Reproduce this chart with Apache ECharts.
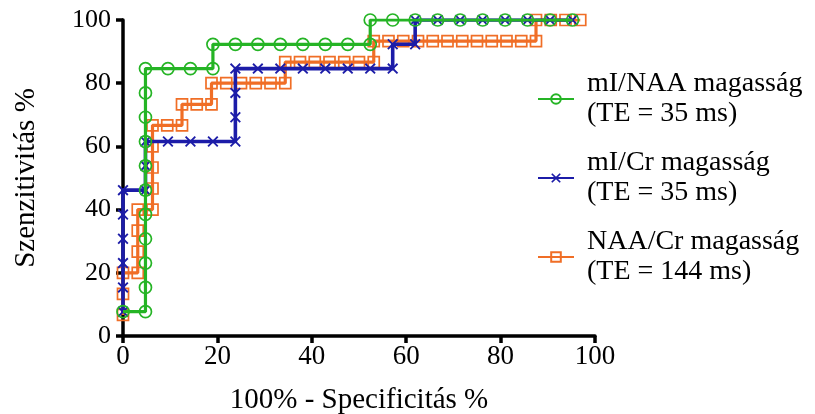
<!DOCTYPE html>
<html>
<head>
<meta charset="utf-8">
<script src="https://cdn.jsdelivr.net/npm/echarts@6/dist/echarts.min.js"></script>
<style>
html,body{margin:0;padding:0;background:#fff;}
#c{width:815px;height:414px;}
</style>
</head>
<body>
<div id="c"></div>
<script>
// ---- Data ----
const xTicks = [0, 20, 40, 60, 80, 100];
const yTicks = [0, 20, 40, 60, 80, 100];

const seriesNames = ['mI/NAA magasság\n(TE = 35 ms)', 'mI/Cr magasság\n(TE = 35 ms)', 'NAA/Cr magasság\n(TE = 144 ms)'];

// mI/NAA (green, circles)
const greenX = [0, 4.76, 4.76, 4.76, 4.76, 4.76, 4.76, 4.76, 4.76, 4.76, 4.76, 4.76, 9.52, 14.29, 19.05, 19.05, 23.81, 28.57, 33.33, 38.10, 42.86, 47.62, 52.38, 52.38, 57.14, 61.90, 66.67, 71.43, 76.19, 80.95, 85.71, 90.48, 95.24];
const greenY = [7.69, 7.69, 15.38, 23.08, 30.77, 38.46, 46.15, 53.85, 61.54, 69.23, 76.92, 84.62, 84.62, 84.62, 84.62, 92.31, 92.31, 92.31, 92.31, 92.31, 92.31, 92.31, 92.31, 100, 100, 100, 100, 100, 100, 100, 100, 100, 100];

// mI/Cr (blue, crosses)
const blueX = [0, 0, 0, 0, 0, 0, 4.76, 4.76, 4.76, 9.52, 14.29, 19.05, 23.81, 23.81, 23.81, 23.81, 28.57, 33.33, 38.10, 42.86, 47.62, 52.38, 57.14, 57.14, 61.90, 61.90, 66.67, 71.43, 76.19, 80.95, 85.71, 90.48, 95.24];
const blueY = [7.69, 15.38, 23.08, 30.77, 38.46, 46.15, 46.15, 53.85, 61.54, 61.54, 61.54, 61.54, 61.54, 69.23, 76.92, 84.62, 84.62, 84.62, 84.62, 84.62, 84.62, 84.62, 84.62, 92.31, 92.31, 100, 100, 100, 100, 100, 100, 100, 100];

// NAA/Cr (orange, squares)
const orangeX = [0, 0, 0, 3.125, 3.125, 3.125, 3.125, 6.25, 6.25, 6.25, 6.25, 6.25, 9.375, 12.5, 12.5, 15.625, 18.75, 18.75, 21.875, 25, 28.125, 31.25, 34.375, 34.375, 37.5, 40.625, 43.75, 46.875, 50, 53.125, 53.125, 56.25, 59.375, 62.5, 65.625, 68.75, 71.875, 75, 78.125, 81.25, 84.375, 87.5, 87.5, 90.625, 93.75, 96.875];
const orangeY = [6.67, 13.33, 20, 20, 26.67, 33.33, 40, 40, 46.67, 53.33, 60, 66.67, 66.67, 66.67, 73.33, 73.33, 73.33, 80, 80, 80, 80, 80, 80, 86.67, 86.67, 86.67, 86.67, 86.67, 86.67, 86.67, 93.33, 93.33, 93.33, 93.33, 93.33, 93.33, 93.33, 93.33, 93.33, 93.33, 93.33, 93.33, 100, 100, 100, 100];

// ---- Styling ----
const GREEN = '#25b425';
const BLUE = '#1c1ca8';
const ORANGE = '#f06e26';
const FONT = '"Liberation Serif", "DejaVu Serif", serif';
const crossPath = 'path://M0,1.2L1.2,0L5,3.8L8.8,0L10,1.2L6.2,5L10,8.8L8.8,10L5,6.2L1.2,10L0,8.8L3.8,5Z';

function pairs(xs, ys) { return xs.map((x, i) => [x, ys[i]]); }

const chart = echarts.init(document.getElementById('c'), null, {renderer: 'canvas'});
chart.setOption({
  animation: false,
  backgroundColor: '#fff',
  textStyle: {fontFamily: FONT, color: '#000'},
  grid: {left: 123, right: 220, top: 20, bottom: 78, containLabel: false, outerBoundsMode: 'none'},
  xAxis: {
    type: 'value', min: 0, max: 100, interval: 20,
    name: '100% - Specificitás %', nameLocation: 'middle', nameGap: 50,
    nameTextStyle: {fontFamily: FONT, fontSize: 29, color: '#000'},
    axisLine: {show: true, onZero: false, lineStyle: {color: '#000', width: 3.5}},
    axisTick: {show: true, length: 7, lineStyle: {color: '#000', width: 3.5}},
    axisLabel: {fontFamily: FONT, fontSize: 27, color: '#000', margin: 7,
      formatter: v => xTicks.indexOf(v) >= 0 ? String(v) : ''},
    splitLine: {show: false}
  },
  yAxis: {
    type: 'value', min: 0, max: 100, interval: 20,
    name: 'Szenzitivitás %', nameLocation: 'middle', nameGap: 82, nameRotate: 90,
    nameTextStyle: {fontFamily: FONT, fontSize: 29, color: '#000'},
    axisLine: {show: true, onZero: false, lineStyle: {color: '#000', width: 3.5}},
    axisTick: {show: true, length: 7, lineStyle: {color: '#000', width: 3.5}},
    axisLabel: {fontFamily: FONT, fontSize: 26, color: '#000', margin: 12,
      formatter: v => yTicks.indexOf(v) >= 0 ? String(v) : ''},
    splitLine: {show: false}
  },
  legend: {
    orient: 'vertical', left: 532, top: 64,
    itemWidth: 36, itemHeight: 12, itemGap: 19,
    textStyle: {fontFamily: FONT, fontSize: 28, color: '#000', lineHeight: 30, padding: [0, 0, 0, 8]},
    data: seriesNames
  },
  series: [
    {
      name: seriesNames[2], type: 'line', z: 2,
      data: pairs(orangeX, orangeY),
      symbol: 'rect', symbolSize: 11,
      lineStyle: {color: ORANGE, width: 3.2},
      itemStyle: {color: 'rgba(255,255,255,0)', borderColor: ORANGE, borderWidth: 1.7}
    },
    {
      name: seriesNames[1], type: 'line', z: 3,
      data: pairs(blueX, blueY),
      symbol: crossPath, symbolSize: 11,
      lineStyle: {color: BLUE, width: 3.6},
      itemStyle: {color: BLUE, borderWidth: 0}
    },
    {
      name: seriesNames[0], type: 'line', z: 4,
      data: pairs(greenX, greenY),
      symbol: 'circle', symbolSize: 12,
      lineStyle: {color: GREEN, width: 3.2},
      itemStyle: {color: 'rgba(255,255,255,0)', borderColor: GREEN, borderWidth: 1.7}
    }
  ]
});
</script>
</body>
</html>
